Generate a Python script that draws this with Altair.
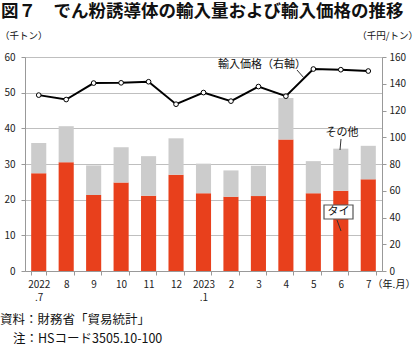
import altair as alt
import pandas as pd

# ---- data ----
months = ["2022\n.7", "8", "9", "10", "11", "12", "2023\n.1", "2", "3", "4", "5", "6", "7"]
thai = [27.4, 30.5, 21.3, 24.8, 21.1, 27.0, 21.8, 20.8, 21.0, 36.9, 21.8, 22.5, 25.7]
other = [8.5, 10.1, 8.3, 9.9, 11.1, 10.2, 8.3, 7.4, 8.5, 11.6, 9.0, 11.8, 9.4]
price = [131.5, 128.2, 140.5, 140.7, 141.5, 124.7, 133.4, 127.0, 137.9, 130.7, 151.0, 150.5, 149.5]
series = ["タイ", "その他"]

FONT = "Noto Sans CJK JP"
RED = "#E8401C"
GREY = "#CCCCCC"

rows = []
for m, t, o in zip(months, thai, other):
    rows.append({"month": m, "series": series[0], "ord": 0, "value": t})
    rows.append({"month": m, "series": series[1], "ord": 1, "value": o})
bars_df = pd.DataFrame(rows)
line_df = pd.DataFrame({"month": months, "price": price})

W, H = 357, 214

xenc = alt.X(
    "month:N", sort=months, title=None,
    scale=alt.Scale(paddingInner=0.45, paddingOuter=0.225),
    axis=alt.Axis(
        labelExpr="isString(datum.value) ? split(datum.value, '\\n') : ''", labelAngle=0,
        labelFont=FONT, labelFontSize=10, labelColor="#222",
        labelLineHeight=13, labelPadding=4,
        tickBand="extent", tickSize=4, tickColor="#999",
        domainColor="#999", grid=False,
    ),
)

bars = alt.Chart(bars_df).mark_bar().encode(
    x=xenc,
    y=alt.Y(
        "value:Q", stack="zero", title=None,
        scale=alt.Scale(domain=[0, 60], nice=False),
        axis=alt.Axis(
            values=[0, 10, 20, 30, 40, 50, 60], orient="left",
            labelFont=FONT, labelFontSize=10, labelColor="#222", labelPadding=6,
            tickSize=4, tickColor="#999", domainColor="#999",
            grid=True, gridColor="#BFBFBF", gridWidth=1,
        ),
    ),
    color=alt.Color("series:N", scale=alt.Scale(domain=series, range=[RED, GREY]), legend=None),
    order=alt.Order("ord:Q", sort="ascending"),
)

line = alt.Chart(line_df).mark_line(
    color="black", strokeWidth=2,
    point=alt.OverlayMarkDef(filled=True, fill="white", stroke="black", strokeWidth=1, size=22),
).encode(
    x=alt.X("month:N", sort=months),
    y=alt.Y(
        "price:Q", title=None,
        scale=alt.Scale(domain=[0, 160], nice=False),
        axis=alt.Axis(
            values=[0, 20, 40, 60, 80, 100, 120, 140, 160], orient="right",
            labelFont=FONT, labelFontSize=10, labelColor="#222", labelPadding=3,
            tickSize=4, tickColor="#999", domainColor="#999", grid=False,
        ),
    ),
)

one = pd.DataFrame({"k": [0]})


def txt(s, x, y, size=10.5, align="center", weight="normal", baseline="middle"):
    return alt.Chart(one).mark_text(
        font=FONT, fontSize=size, align=align, baseline=baseline,
        fontWeight=weight, color="#111",
    ).encode(x=alt.value(x), y=alt.value(y), text=alt.value(s))


def seg(x1, y1, x2, y2, color="#333", w=1):
    return alt.Chart(one).mark_rule(color=color, strokeWidth=w).encode(
        x=alt.value(x1), x2=alt.value(x2), y=alt.value(y1), y2=alt.value(y2)
    )


box = alt.Chart(one).mark_rect(fill="white", stroke="#555", strokeWidth=1.2).encode(
    x=alt.value(299), x2=alt.value(328), y=alt.value(148), y2=alt.value(162)
)

annotations = [
    txt("図７　でん粉誘導体の輸入量および輸入価格の推移", -24, -45, size=17.5, align="left", weight="bold"),
    txt("（千トン）", -25, -21, size=9.5, align="left"),
    txt("（千円/トン）", 393, -21, size=9.5, align="right"),
    txt("輸入価格（右軸）", 237, 8, size=11),
    seg(272, 13, 279, 21),
    txt("その他", 317, 76, size=11),
    seg(316, 82, 315, 93),
    seg(312, 163, 316, 174),
    box,
    txt("タイ", 313.5, 155, size=11),
    txt("（年.月）", 369, 228, size=10),
    txt("資料：財務省「貿易統計」", -25, 263, size=12.5, align="left"),
    txt("注：HSコード3505.10-100", -12, 282, size=12.5, align="left"),
]

chart = alt.layer(bars, line, *annotations).resolve_scale(y="independent").properties(
    width=W, height=H,
    autosize=alt.AutoSizeParams(type="none"),
    padding={"left": 25, "top": 57, "right": 38, "bottom": 76},
).configure_view(stroke=None).configure(background="white")

chart.save("out.html", embed_options={"renderer": "svg", "actions": False})
